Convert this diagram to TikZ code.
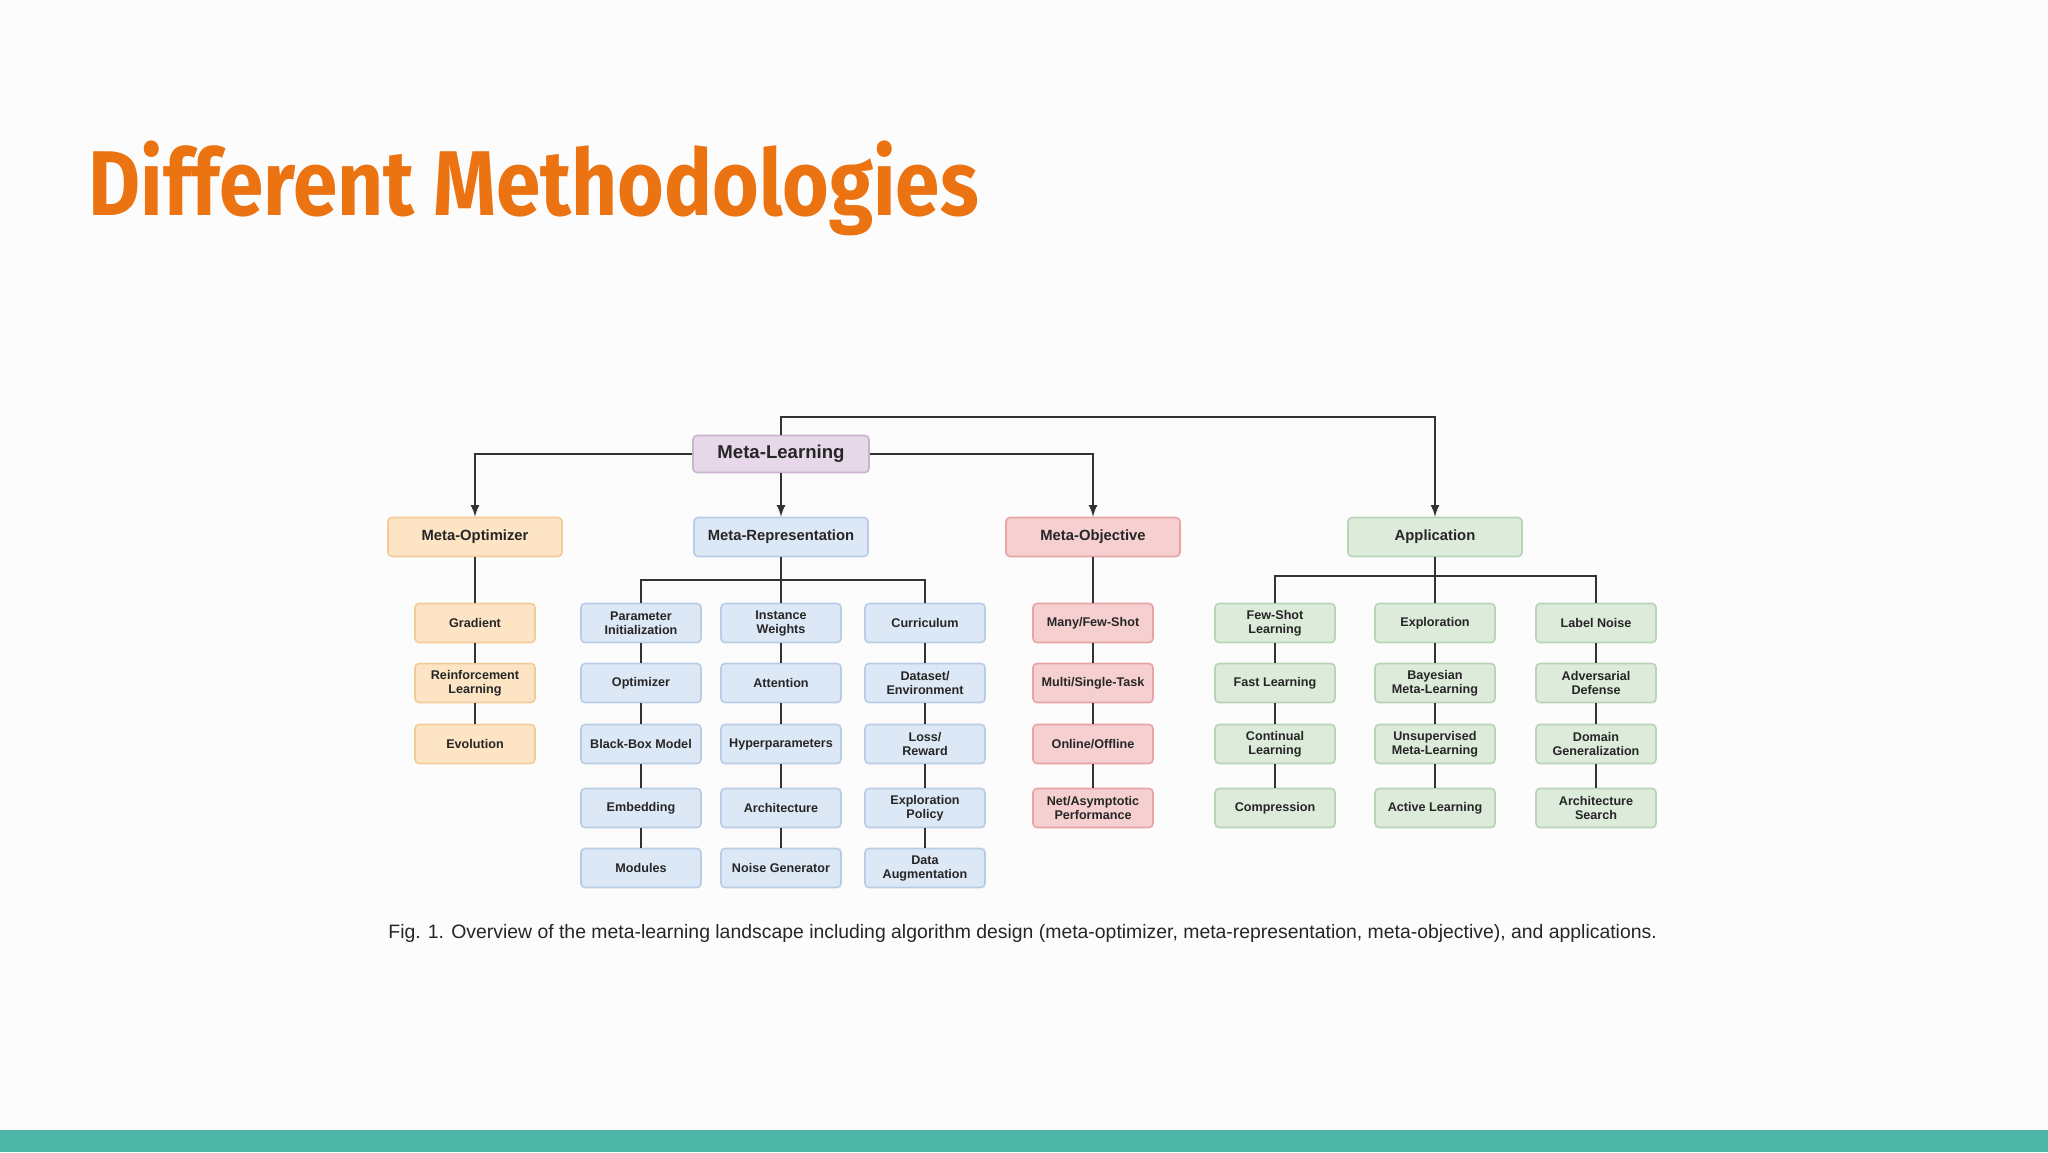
\documentclass[tikz,border=0pt]{standalone}
\usepackage{fontspec}
\usepackage{graphicx}
\setmainfont{Liberation Sans}
\newfontfamily\titlefont{Fira Sans}
\usetikzlibrary{positioning}
\definecolor{ttl}{HTML}{EC7311}
\definecolor{bar}{HTML}{4DB6A6}
\definecolor{ln}{HTML}{333333}
\definecolor{orgF}{HTML}{FCE4C4}\definecolor{orgD}{HTML}{F2CC98}
\definecolor{bluF}{HTML}{DDE8F6}\definecolor{bluD}{HTML}{B8CCE6}
\definecolor{redF}{HTML}{F6D0D0}\definecolor{redD}{HTML}{E6A4A6}
\definecolor{grnF}{HTML}{DCEBDA}\definecolor{grnD}{HTML}{B8D4B6}
\definecolor{purF}{HTML}{E6D7E9}\definecolor{purD}{HTML}{C9B4CE}
\tikzset{
 bx/.style={draw, rounded corners=2pt, line width=0.8pt, align=center, font=\bfseries\fontsize{6.3}{7}\selectfont, text=black!85, minimum width=60pt, minimum height=19.5pt, inner sep=1pt},
 hd/.style={bx, minimum width=87pt, font=\bfseries\fontsize{7.4}{9}\selectfont},
 org/.style={fill=orgF, draw=orgD},
 blu/.style={fill=bluF, draw=bluD},
 red/.style={fill=redF, draw=redD},
 grn/.style={fill=grnF, draw=grnD},
 pur/.style={fill=purF, draw=purD},
 con/.style={draw=ln, line width=1pt},
 arr/.style={con, -latex},
}
\begin{document}
\begin{tikzpicture}[x=0.5pt,y=-0.5pt]
\fill[white!99!black] (0,0) rectangle (2048,1152);
\useasboundingbox (0,0) rectangle (2048,1152);
\fill[bar] (0,1130) rectangle (2048,1152);
\node[anchor=base west, text=ttl, inner sep=0, font=\titlefont\bfseries\fontsize{46}{50}\selectfont] (title) at (88,215) {\scalebox{0.87}[1]{Different Methodologies}};
% root
\node[bx, pur, minimum width=88pt, minimum height=18.5pt, font=\bfseries\fontsize{9.3}{11}\selectfont] (ml) at (781,454) {Meta-Learning};
\node[hd, org] (opt) at (475,537) {Meta-Optimizer};
\node[hd, blu] (rep) at (781,537) {Meta-Representation};
\node[hd, red] (obj) at (1093,537) {Meta-Objective};
\node[hd, grn] (app) at (1435,537) {Application};
\coordinate (top) at (781,417);
\draw[arr] (ml.west) -| (opt.north);
\draw[arr] (ml.east) -| (obj.north);
\draw[arr] (ml.south) -- (rep.north);
\draw[arr] (ml.north) |- (top) -| (app.north);
% optimizer
\node[bx, org] (o1) at (475,623) {Gradient};
\node[bx, org] (o2) at (475,683) {Reinforcement\\Learning};
\node[bx, org] (o3) at (475,744) {Evolution};
\draw[con] (opt) -- (o1) -- (o2) -- (o3);
% representation
\node[bx, blu] (r11) at (641,623) {Parameter\\Initialization};
\node[bx, blu] (r12) at (641,683) {Optimizer};
\node[bx, blu] (r13) at (641,744) {Black-Box Model};
\node[bx, blu] (r14) at (641,808) {Embedding};
\node[bx, blu] (r15) at (641,868) {Modules};
\node[bx, blu] (r21) at (781,623) {Instance\\Weights};
\node[bx, blu] (r22) at (781,683) {Attention};
\node[bx, blu] (r23) at (781,744) {Hyperparameters};
\node[bx, blu] (r24) at (781,808) {Architecture};
\node[bx, blu] (r25) at (781,868) {Noise Generator};
\node[bx, blu] (r31) at (925,623) {Curriculum};
\node[bx, blu] (r32) at (925,683) {Dataset/\\Environment};
\node[bx, blu] (r33) at (925,744) {Loss/\\Reward};
\node[bx, blu] (r34) at (925,808) {Exploration\\Policy};
\node[bx, blu] (r35) at (925,868) {Data\\Augmentation};
\coordinate (rb) at (781,580);
\draw[con] (rep.south) -- (r21.north);
\draw[con] (r11.north) |- (rb) -| (r31.north);
\draw[con] (r11) -- (r12) -- (r13) -- (r14) -- (r15);
\draw[con] (r21) -- (r22) -- (r23) -- (r24) -- (r25);
\draw[con] (r31) -- (r32) -- (r33) -- (r34) -- (r35);
% objective
\node[bx, red] (b1) at (1093,623) {Many/Few-Shot};
\node[bx, red] (b2) at (1093,683) {Multi/Single-Task};
\node[bx, red] (b3) at (1093,744) {Online/Offline};
\node[bx, red] (b4) at (1093,808) {Net/Asymptotic\\Performance};
\draw[con] (obj) -- (b1) -- (b2) -- (b3) -- (b4);
% application
\node[bx, grn] (a11) at (1275,623) {Few-Shot\\Learning};
\node[bx, grn] (a12) at (1275,683) {Fast Learning};
\node[bx, grn] (a13) at (1275,744) {Continual\\Learning};
\node[bx, grn] (a14) at (1275,808) {Compression};
\node[bx, grn] (a21) at (1435,623) {Exploration};
\node[bx, grn] (a22) at (1435,683) {Bayesian\\Meta-Learning};
\node[bx, grn] (a23) at (1435,744) {Unsupervised\\Meta-Learning};
\node[bx, grn] (a24) at (1435,808) {Active Learning};
\node[bx, grn] (a31) at (1596,623) {Label Noise};
\node[bx, grn] (a32) at (1596,683) {Adversarial\\Defense};
\node[bx, grn] (a33) at (1596,744) {Domain\\Generalization};
\node[bx, grn] (a34) at (1596,808) {Architecture\\Search};
\coordinate (ab) at (1435,576);
\draw[con] (app.south) -- (a21.north);
\draw[con] (a11.north) |- (ab) -| (a31.north);
\draw[con] (a11) -- (a12) -- (a13) -- (a14);
\draw[con] (a21) -- (a22) -- (a23) -- (a24);
\draw[con] (a31) -- (a32) -- (a33) -- (a34);
% caption
\node[anchor=west, inner sep=0, text=black!85, font=\fontsize{9.7}{11}\selectfont] (cap) at (388,933) {Fig. 1. Overview of the meta-learning landscape including algorithm design (meta-optimizer, meta-representation, meta-objective), and applications.};
\end{tikzpicture}
\end{document}
